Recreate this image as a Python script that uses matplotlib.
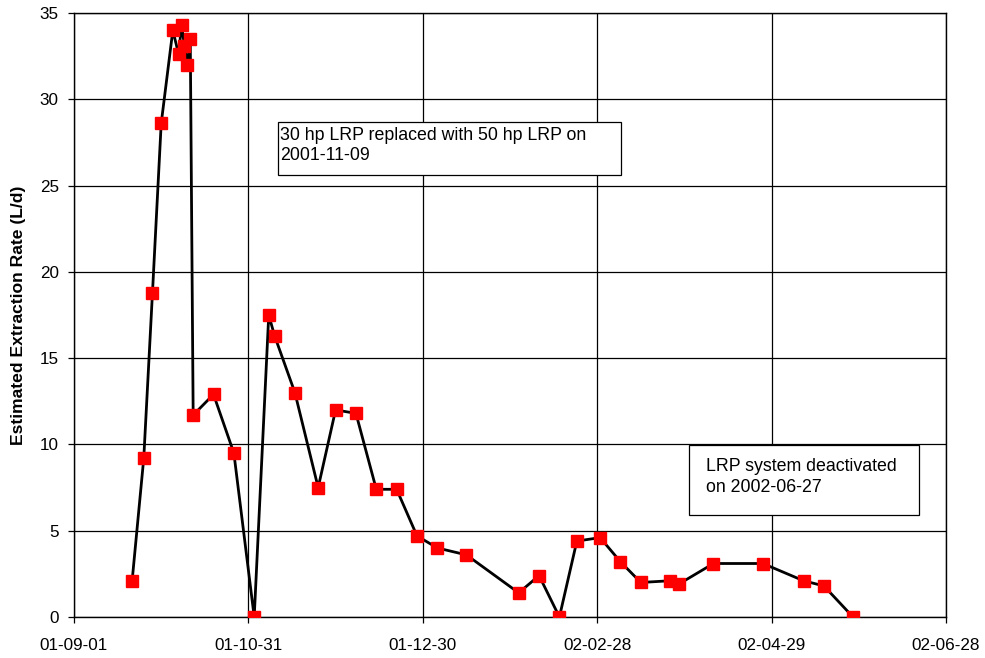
import matplotlib
matplotlib.use("Agg")
import matplotlib.pyplot as plt
from matplotlib.patches import Rectangle
import pandas as pd

plt.rcParams['font.family'] = ['Liberation Sans', 'DejaVu Sans']

dates = ["2001-09-21", "2001-09-25", "2001-09-28", "2001-10-01", "2001-10-05",
         "2001-10-07", "2001-10-08", "2001-10-09", "2001-10-10", "2001-10-11",
         "2001-10-12", "2001-10-19", "2001-10-26", "2001-11-02", "2001-11-07",
         "2001-11-09", "2001-11-16", "2001-11-24", "2001-11-30", "2001-12-07",
         "2001-12-14", "2001-12-21", "2001-12-28", "2002-01-04", "2002-01-14",
         "2002-02-01", "2002-02-08", "2002-02-15", "2002-02-21", "2002-03-01",
         "2002-03-08", "2002-03-15", "2002-03-25", "2002-03-28", "2002-04-09",
         "2002-04-26", "2002-05-10", "2002-05-17", "2002-05-27"]
rates = [2.1, 9.2, 18.8, 28.6, 34.0,
         32.6, 34.3, 33.1, 32.0, 33.5,
         11.7, 12.9, 9.5, 0.0, 17.5,
         16.3, 13.0, 7.5, 12.0, 11.8,
         7.4, 7.4, 4.7, 4.0, 3.6,
         1.4, 2.4, 0.0, 4.4, 4.6,
         3.2, 2.0, 2.1, 1.9, 3.1,
         3.1, 2.1, 1.8, 0.0]

xtick_dates = ["2001-09-01", "2001-10-31", "2001-12-30", "2002-02-28", "2002-04-29", "2002-06-28"]
xtick_labels = ["01-09-01", "01-10-31", "01-12-30", "02-02-28", "02-04-29", "02-06-28"]
yticks = [0, 5, 10, 15, 20, 25, 30, 35]

ylabel = "Estimated Extraction Rate (L/d)"
note1 = "30 hp LRP replaced with 50 hp LRP on\n2001-11-09"
note2 = "LRP system deactivated\non 2002-06-27"

x = pd.to_datetime(dates)
xt = pd.to_datetime(xtick_dates)

fig = plt.figure(figsize=(9.85, 6.58), dpi=100)
ax = fig.add_axes([74/985, 1 - 617/658, (946-74)/985, (617-13)/658])

ax.plot(x, rates, color='black', linewidth=2.0, marker='s', markersize=9,
        markerfacecolor='#ff0000', markeredgecolor='#ff0000', zorder=3)

ax.set_xlim(xt[0], xt[-1])
ax.set_ylim(0, 35)
ax.set_xticks(xt)
ax.set_xticklabels(xtick_labels)
ax.set_yticks(yticks)
ax.grid(True, color='black', linewidth=0.9)
ax.set_axisbelow(True)
for s in ax.spines.values():
    s.set_color('black')
    s.set_linewidth(1.0)
ax.tick_params(axis='both', labelsize=12.3, direction='out', length=4, color='black', width=0.9)
ax.tick_params(axis='x', pad=11)
ax.tick_params(axis='y', pad=7)
ax.set_ylabel(ylabel, fontsize=12.6, fontweight='bold')
ax.yaxis.set_label_coords(-0.0555, 0.5)

# annotation boxes (axes fractions)
ax.add_patch(Rectangle((0.2339, 0.7318), 0.6273 - 0.2339, 0.8195 - 0.7318,
                       transform=ax.transAxes, facecolor='white', edgecolor='black',
                       linewidth=0.9, zorder=4))
ax.text(0.2362, 0.812, note1, transform=ax.transAxes, fontsize=12.8, va='top', ha='left',
        linespacing=1.27, zorder=5)
ax.add_patch(Rectangle((0.7053, 0.1689), 0.969 - 0.7053, 0.2848 - 0.1689,
                       transform=ax.transAxes, facecolor='white', edgecolor='black',
                       linewidth=0.9, zorder=4))
ax.text(0.7248, 0.2632, note2, transform=ax.transAxes, fontsize=12.8, va='top', ha='left',
        linespacing=1.31, zorder=5)

fig.savefig("out.png", dpi=100)
